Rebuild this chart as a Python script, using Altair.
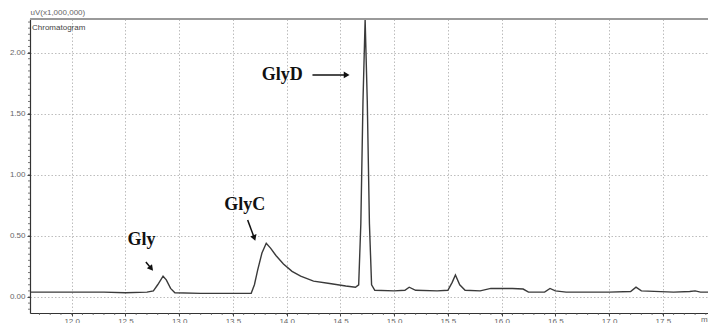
import altair as alt
import pandas as pd

# Chromatogram trace (retention time in min, intensity in uV x 1,000,000)
times = [11.62, 12.0, 12.3, 12.5, 12.7, 12.76, 12.8, 12.85, 12.88, 12.92, 12.96,
         13.2, 13.5, 13.6, 13.67, 13.70, 13.73, 13.77, 13.81, 13.85, 13.9, 13.97,
         14.05, 14.13, 14.25, 14.4, 14.55, 14.64, 14.67, 14.69, 14.71, 14.73, 14.75,
         14.77, 14.79, 14.82, 15.0, 15.1, 15.14, 15.2, 15.4, 15.5, 15.54, 15.57,
         15.61, 15.66, 15.8, 15.9, 16.1, 16.2, 16.25, 16.4, 16.45, 16.5, 16.6,
         17.0, 17.2, 17.25, 17.3, 17.6, 17.75, 17.8, 17.85, 17.92]
signal = [0.04, 0.04, 0.04, 0.035, 0.04, 0.05, 0.10, 0.17, 0.14, 0.07, 0.035,
          0.03, 0.03, 0.03, 0.03, 0.10, 0.22, 0.36, 0.44, 0.40, 0.34, 0.27,
          0.21, 0.17, 0.13, 0.11, 0.09, 0.08, 0.10, 0.6, 1.6, 2.27, 1.6,
          0.6, 0.10, 0.055, 0.05, 0.055, 0.08, 0.055, 0.05, 0.055, 0.12, 0.18,
          0.10, 0.055, 0.05, 0.07, 0.07, 0.065, 0.04, 0.04, 0.07, 0.05, 0.04,
          0.04, 0.045, 0.08, 0.05, 0.04, 0.045, 0.05, 0.04, 0.04]

x_ticks = [12.0, 12.5, 13.0, 13.5, 14.0, 14.5, 15.0, 15.5, 16.0, 16.5, 17.0, 17.5]
y_ticks = [0.0, 0.25, 0.5, 0.75, 1.0, 1.25, 1.5, 1.75, 2.0, 2.25]
y_minor = [round(-0.1 + 0.05 * i, 2) for i in range(48)]
x_minor = [round(11.7 + 0.1 * i, 1) for i in range(63)]

# Annotations
labels = ["Gly", "GlyC", "GlyD"]
label_x = [12.65, 13.61, 13.96]
label_y = [0.466, 0.753, 1.817]
arrow_x = [12.69, 13.637, 14.24]
arrow_y = [0.286, 0.63, 1.817]
head_x = [12.74, 13.699, 14.558]
head_y = [0.233, 0.483, 1.817]
head_angle = [321, 340, 270]

X_DOM = [11.612, 17.92]
Y_DOM = [-0.131, 2.275]

trace = pd.DataFrame({"t": times, "v": signal})
ann = pd.DataFrame({"label": labels, "lx": label_x, "ly": label_y,
                    "ax": arrow_x, "ay": arrow_y,
                    "hx": head_x, "hy": head_y, "ang": head_angle})

xs = alt.Scale(domain=X_DOM, nice=False, zero=False)
ys = alt.Scale(domain=Y_DOM, nice=False, zero=False)

line = alt.Chart(trace).mark_line(color="#3a3a3a", strokeWidth=1.4, clip=True).encode(
    x=alt.X("t:Q", scale=xs,
            axis=alt.Axis(values=x_ticks, format=".1f", title=None,
                          labelFontSize=8, labelColor="#666", labelPadding=1,
                          tickSize=3, tickColor="#444", domainColor="#333",
                          domainWidth=1.2,
                          gridDash=[1.5, 2], gridColor="#bdbdbd")),
    y=alt.Y("v:Q", scale=ys,
            axis=alt.Axis(values=y_ticks, format=".2f", title="uV(x1,000,000)",
                          titleAngle=0, titleX=0, titleY=-7, titleAlign="left",
                          titleBaseline="middle", titleFontSize=8,
                          titleFontWeight="normal", titleColor="#666",
                          labelFontSize=8, labelColor="#666", labelPadding=2,
                          tickSize=3, tickColor="#444", domainColor="#333",
                          domainWidth=1.2,
                          gridDash=[1.5, 2], gridColor="#bdbdbd")),
)

yminor = alt.Chart(pd.DataFrame({"m": y_minor})).mark_rule(color="#555", strokeWidth=0.8).encode(
    y=alt.Y("m:Q", scale=ys), x=alt.value(-2), x2=alt.value(0))
xminor = alt.Chart(pd.DataFrame({"m": x_minor})).mark_rule(color="#555", strokeWidth=0.8).encode(
    x=alt.X("m:Q", scale=xs), y=alt.value(294), y2=alt.value(296))

top_border = alt.Chart(pd.DataFrame({"a": [0]})).mark_rule(color="#9a9a9a", strokeWidth=2.2).encode(
    x=alt.value(0), x2=alt.value(678), y=alt.value(0))

chrom = alt.Chart(pd.DataFrame({"a": ["Chromatogram"]})).mark_text(
    align="left", baseline="middle", fontSize=8, color="#444", font="Liberation Sans").encode(
    text="a:N", x=alt.value(2), y=alt.value(9))

unit = alt.Chart(pd.DataFrame({"a": ["min"]})).mark_text(
    align="left", baseline="middle", fontSize=8, color="#666", font="Liberation Sans").encode(
    text="a:N", x=alt.value(671), y=alt.value(301))

texts = alt.Chart(ann).mark_text(font="Liberation Serif", fontWeight="bold", fontSize=18,
                                 color="#111", baseline="middle", align="center").encode(
    x=alt.X("lx:Q", scale=xs), y=alt.Y("ly:Q", scale=ys), text="label:N")

shafts = alt.Chart(ann).mark_rule(color="#111", strokeWidth=1.5).encode(
    x=alt.X("ax:Q", scale=xs), y=alt.Y("ay:Q", scale=ys),
    x2="hx:Q", y2="hy:Q")

heads = alt.Chart(ann).mark_point(shape="triangle-down", filled=True, size=45,
                                  color="#111", opacity=1).encode(
    x=alt.X("hx:Q", scale=xs), y=alt.Y("hy:Q", scale=ys),
    angle=alt.Angle("ang:Q", scale=None))

chart = alt.layer(line, yminor, xminor, top_border, chrom, unit, shafts, heads, texts).properties(
    width=678, height=294,
    autosize=alt.AutoSizeParams(type="none"),
    padding={"left": 30, "top": 19, "right": 0, "bottom": 10},
).configure_view(stroke=None).configure_axis(
    labelFont="Liberation Sans", titleFont="Liberation Sans"
).configure(background="white")

chart.save("out.html", embed_options={"renderer": "svg", "actions": False})
